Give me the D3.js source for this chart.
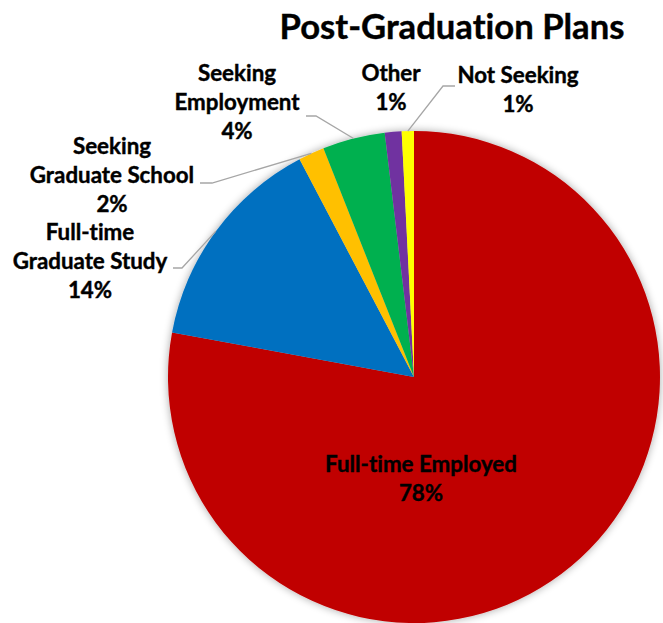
<!DOCTYPE html>
<html>
<head>
<meta charset="utf-8">
<title>Post-Graduation Plans</title>
<script src="https://cdnjs.cloudflare.com/ajax/libs/d3/7.8.5/d3.min.js"></script>
<style>
  body { margin: 0; background: #fff; }
  text { font-family: Lato, "Open Sans", sans-serif; font-weight: 700; fill: #000;
         font-variant-ligatures: none; stroke: #000; stroke-width: 0.4px; }
  .leader { fill: none; stroke: #a6a6a6; stroke-width: 1.3; }
</style>
</head>
<body>
<svg id="main" width="663" height="623"></svg>
<script>
// data, clockwise from 12 o'clock
var categories = ["Full-time Employed", "Full-time Graduate Study", "Seeking Graduate School",
                  "Seeking Employment", "Other", "Not Seeking"];
var values = [77.9, 14.4, 1.7, 4.1, 1.1, 0.8];
var colors = ["#c00000", "#0070c0", "#ffc000", "#00b050", "#7030a0", "#ffff00"];
var labelLines = [["Full-time Employed"], ["Full-time", "Graduate Study"], ["Seeking", "Graduate School"],
                  ["Seeking", "Employment"], ["Other"], ["Not Seeking"]];

// layout
var CX = 414, CY = 377, R = 246;
var LINE_H = 29;
var labelPos = [[421, 472], [90, 240], [112, 154], [237, 81], [391, 81], [518, 83]];
var elbows = [null, [[182, 268], [173, 268]], [[212, 183], [200, 183]],
              [[316, 116], [306, 116]], null, [[443, 86], [455, 86]]];

var svg = d3.select("#main");

// soft shadow round the pie
var f = svg.append("defs").append("filter").attr("id", "shadow")
  .attr("x", "-10%").attr("y", "-10%").attr("width", "120%").attr("height", "120%");
f.append("feGaussianBlur").attr("in", "SourceAlpha").attr("stdDeviation", 4).attr("result", "b");
f.append("feComponentTransfer").attr("in", "b").attr("result", "s")
  .append("feFuncA").attr("type", "linear").attr("slope", 0.35);
var m = f.append("feMerge");
m.append("feMergeNode").attr("in", "s");
m.append("feMergeNode").attr("in", "SourceGraphic");

// fit font size to a target width
function fitSize(str, target) {
  var t = svg.append("text").style("font-size", "20px").text(str);
  var w = t.node().getComputedTextLength();
  t.remove();
  return 20 * target / w;
}
var titleSize = fitSize("Post-Graduation Plans", 345);
var labelSize = fitSize("Full-time Employed", 192);

var total = d3.sum(values);
var pie = d3.pie().sort(null).value(function(d) { return d; });
var arc = d3.arc().innerRadius(0).outerRadius(R);
var arcs = pie(values);

svg.append("g")
  .attr("transform", "translate(" + CX + "," + CY + ")")
  .attr("filter", "url(#shadow)")
  .selectAll("path").data(arcs).enter().append("path")
  .attr("d", arc)
  .attr("fill", function(d, i) { return colors[i]; });

// leader lines
arcs.forEach(function(d, i) {
  if (!elbows[i]) return;
  var a = (d.startAngle + d.endAngle) / 2;
  var pts = [[CX + R * Math.sin(a), CY - R * Math.cos(a)]].concat(elbows[i]);
  svg.append("path").attr("class", "leader").attr("d", d3.line()(pts));
});

// labels
arcs.forEach(function(d, i) {
  var lines = labelLines[i].concat([Math.round(d.data / total * 100) + "%"]);
  var t = svg.append("text")
    .attr("x", labelPos[i][0]).attr("y", labelPos[i][1])
    .attr("text-anchor", "middle")
    .style("font-size", labelSize + "px");
  lines.forEach(function(s, k) {
    t.append("tspan").attr("x", labelPos[i][0]).attr("y", labelPos[i][1] + k * LINE_H).text(s);
  });
});

svg.append("text")
  .attr("x", 452).attr("y", 39)
  .attr("text-anchor", "middle")
  .style("font-size", titleSize + "px")
  .text("Post-Graduation Plans");
</script>
</body>
</html>
